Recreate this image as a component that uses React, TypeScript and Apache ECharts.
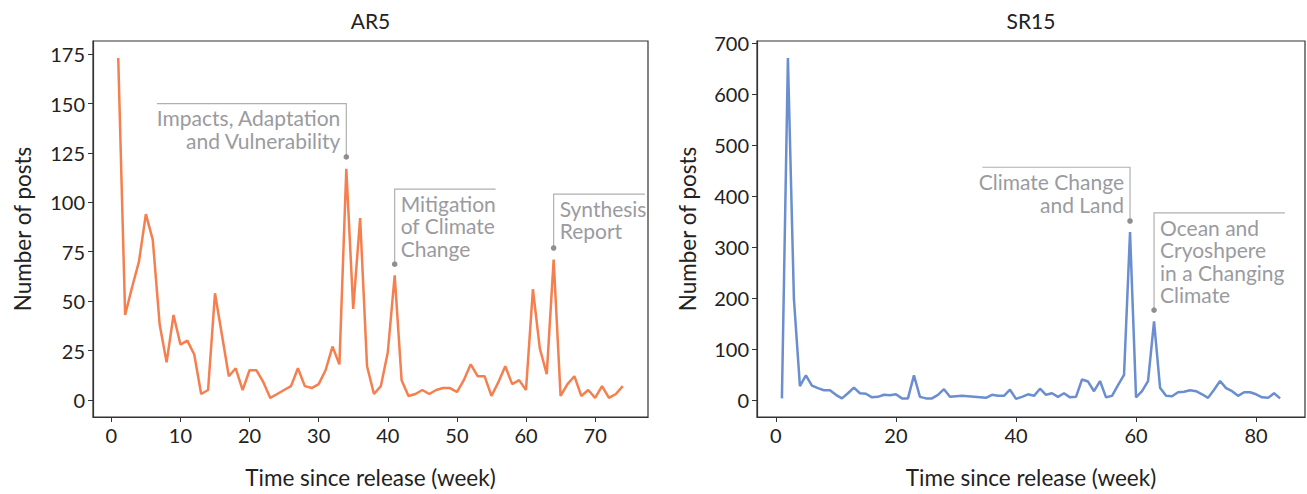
import React, { useEffect, useRef } from "react";
import * as echarts from "echarts";

// ---------- data ----------
const AR5_WEEKS = Array.from({ length: 74 }, (_, i) => i + 1);
const AR5_POSTS = [
  173, 43, 57, 70, 94, 81, 38, 19, 43, 28,
  30, 23, 3, 5, 54, 33, 12, 16, 5, 15,
  15, 9, 1, 3, 5, 7, 16, 7, 6, 8,
  15, 27, 18, 117, 46, 92, 17, 3, 7, 24,
  63, 10, 2, 3, 5, 3, 5, 6, 6, 4,
  10, 18, 12, 12, 2, 9, 17, 8, 10, 5,
  56, 26, 13, 71, 2, 8, 12, 2, 5, 1,
  7, 1, 3, 7,
];
const SR15_WEEKS = Array.from({ length: 84 }, (_, i) => i + 1);
const SR15_POSTS = [
  3, 670, 198, 27, 48, 28, 23, 19, 19, 10,
  3, 13, 24, 13, 12, 5, 6, 10, 9, 11,
  3, 3, 48, 6, 3, 3, 10, 21, 6, 7,
  8, 7, 6, 5, 4, 10, 8, 8, 20, 2,
  6, 11, 8, 22, 10, 13, 6, 13, 5, 6,
  40, 36, 17, 37, 5, 8, 29, 49, 329, 5,
  17, 37, 154, 24, 8, 7, 15, 16, 19, 17,
  11, 4, 20, 37, 23, 17, 8, 15, 15, 11,
  5, 4, 13, 3,
];
const AR5_X_TICKS = [0, 10, 20, 30, 40, 50, 60, 70];
const AR5_Y_TICKS = [0, 25, 50, 75, 100, 125, 150, 175];
const SR15_X_TICKS = [0, 20, 40, 60, 80];
const SR15_Y_TICKS = [0, 100, 200, 300, 400, 500, 600, 700];

const AR5_ANNOTATIONS = [
  { lines: ["Impacts, Adaptation", "and Vulnerability"], x: 34, dotY: 123, topY: 150, endX: 6.6, side: "right" },
  { lines: ["Mitigation", "of Climate", "Change"], x: 41, dotY: 68.7, topY: 106.7, endX: 55.6, side: "left" },
  { lines: ["Synthesis", "Report"], x: 64, dotY: 76.9, topY: 104.2, endX: 77.2, side: "left" },
];
const SR15_ANNOTATIONS = [
  { lines: ["Climate Change", "and Land"], x: 59, dotY: 350.7, topY: 456, endX: 34.4, side: "right" },
  { lines: ["Ocean and", "Cryoshpere", "in a Changing", "Climate"], x: 63, dotY: 176, topY: 366.7, endX: 84.8, side: "left" },
];

const FONT = "Lato";
const TXT = "#222222";
const ANN_TXT = "#9a9b9f";
const ANN_LINE = "#b0b0b0";

function xAxisCfg(gridIndex: number, min: number, max: number, ticks: number[]) {
  return {
    type: "value",
    gridIndex,
    min,
    max,
    name: "Time since release (week)",
    nameLocation: "middle",
    nameGap: 49,
    nameTextStyle: { fontFamily: FONT, fontSize: 22.5, color: TXT },
    axisLine: { show: true, onZero: false, lineStyle: { color: "#333", width: 1.2 } },
    axisTick: { show: true, inside: false, length: 5, customValues: ticks, lineStyle: { color: "#333", width: 1 } },
    axisLabel: { show: true, customValues: ticks, fontFamily: FONT, fontSize: 20, color: TXT, margin: 8 },
    splitLine: { show: false },
  };
}
function yAxisCfg(gridIndex: number, min: number, max: number, ticks: number[], gap: number) {
  return {
    type: "value",
    gridIndex,
    min,
    max,
    name: "Number of posts",
    nameLocation: "middle",
    nameGap: gap,
    nameRotate: 90,
    nameTextStyle: { fontFamily: FONT, fontSize: 22.5, color: TXT },
    axisLine: { show: true, onZero: false, lineStyle: { color: "#333", width: 1.2 } },
    axisTick: { show: true, inside: false, length: 5, customValues: ticks, lineStyle: { color: "#333", width: 1 } },
    axisLabel: { show: true, customValues: ticks, fontFamily: FONT, fontSize: 20, color: TXT, margin: 8 },
    splitLine: { show: false },
  };
}

export default function App() {
  const ref = useRef<HTMLDivElement>(null);
  useEffect(() => {
    if (!ref.current) return;
    const chart = echarts.init(ref.current, null, { renderer: "svg" });
    const option: any = {
      animation: false,
      backgroundColor: "#ffffff",
      grid: [
        { left: 93, top: 41, width: 555, height: 381, show: true, borderColor: "#333", borderWidth: 1.2, backgroundColor: "transparent" },
        { left: 757, top: 41, width: 548, height: 381, show: true, borderColor: "#333", borderWidth: 1.2, backgroundColor: "transparent" },
      ],
      xAxis: [xAxisCfg(0, -2.65, 77.65, AR5_X_TICKS), xAxisCfg(1, -3.15, 88.15, SR15_X_TICKS)],
      yAxis: [yAxisCfg(0, -8.65, 181.65, AR5_Y_TICKS, 59), yAxisCfg(1, -33.5, 703.5, SR15_Y_TICKS, 58)],
      series: [
        {
          type: "line",
          xAxisIndex: 0,
          yAxisIndex: 0,
          data: AR5_WEEKS.map((w, i) => [w, AR5_POSTS[i]]),
          showSymbol: false,
          symbol: "none",
          lineStyle: { color: "#f57f4e", width: 2.5 },
        },
        {
          type: "line",
          xAxisIndex: 1,
          yAxisIndex: 1,
          data: SR15_WEEKS.map((w, i) => [w, SR15_POSTS[i]]),
          showSymbol: false,
          symbol: "none",
          lineStyle: { color: "#6a8ecf", width: 2.5 },
        },
      ],
    };
    chart.setOption(option);

    const graphics: any[] = [];
    const titles = [
      { text: "AR5", grid: 0 },
      { text: "SR15", grid: 1 },
    ];
    const grids = option.grid;
    titles.forEach((t) => {
      const g = grids[t.grid];
      graphics.push({
        type: "text",
        x: g.left + g.width / 2,
        y: 20,
        style: { text: t.text, fontFamily: FONT, fontSize: 21, fill: TXT, textAlign: "center", textVerticalAlign: "middle" },
      });
    });

    const addAnn = (anns: any[], gridIndex: number) => {
      anns.forEach((a) => {
        const dot = chart.convertToPixel({ gridIndex }, [a.x, a.dotY]) as number[];
        const top = chart.convertToPixel({ gridIndex }, [a.endX, a.topY]) as number[];
        const px = dot[0];
        const topY = top[1];
        graphics.push({
          type: "polyline",
          shape: { points: [[top[0], topY], [px, topY], [px, dot[1]]] },
          style: { stroke: ANN_LINE, lineWidth: 1.2, fill: null },
          z: 10,
        });
        graphics.push({
          type: "circle",
          shape: { cx: px, cy: dot[1], r: 2.8 },
          style: { fill: "#8f8f8f" },
          z: 11,
        });
        graphics.push({
          type: "text",
          x: a.side === "right" ? px - 6 : px + 6,
          y: topY + 3,
          style: {
            text: a.lines.join("\n"),
            fontFamily: FONT,
            fontSize: 21,
            lineHeight: 22.5,
            fill: ANN_TXT,
            textAlign: a.side === "right" ? "right" : "left",
            textVerticalAlign: "top",
          },
          z: 11,
        });
      });
    };
    addAnn(AR5_ANNOTATIONS, 0);
    addAnn(SR15_ANNOTATIONS, 1);
    chart.setOption({ graphic: graphics });

    return () => chart.dispose();
  }, []);
  return (
    <div
      ref={ref}
      style={{ position: "absolute", left: 0, top: 0, width: 1307, height: 494, background: "#fff" }}
    />
  );
}
